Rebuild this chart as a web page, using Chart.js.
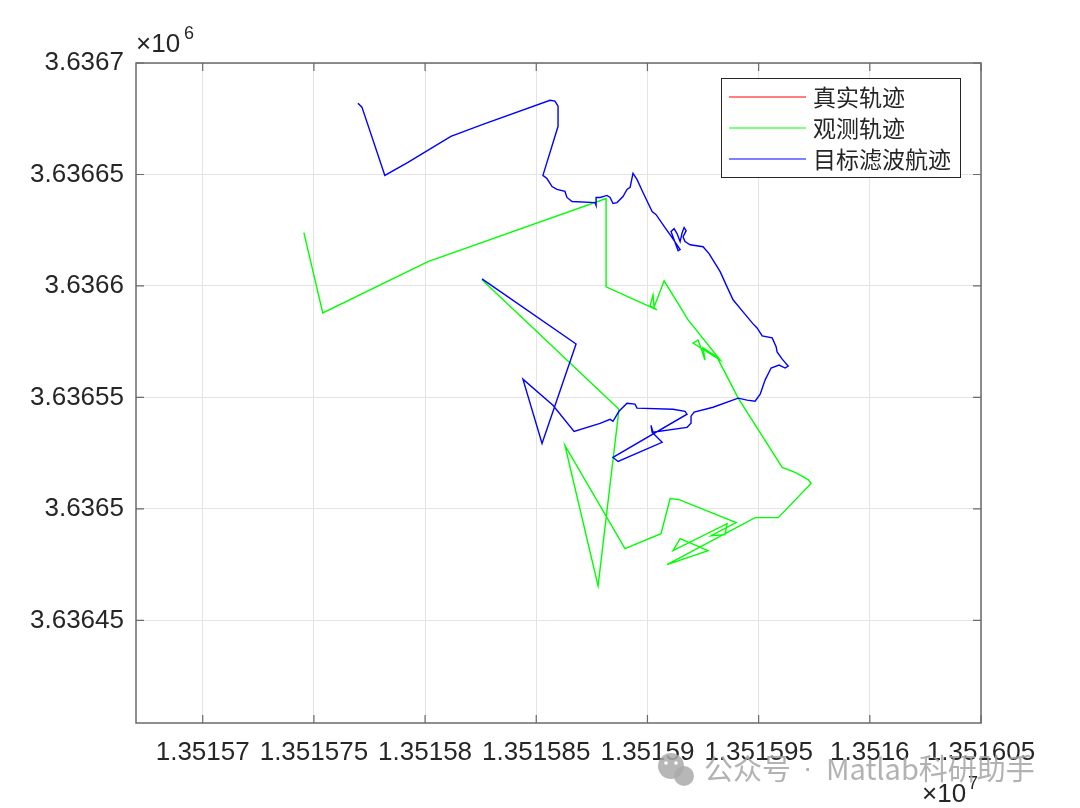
<!DOCTYPE html>
<html>
<head>
<meta charset="utf-8">
<script src="https://cdn.jsdelivr.net/npm/chart.js@4.4.0/dist/chart.umd.min.js"></script>
<style>
html, body { margin: 0; padding: 0; background: #fff; }
</style>
</head>
<body>
<canvas id="myChart" width="1080" height="808"></canvas>
<script>
// legend names
var seriesLabels = ['真实轨迹', '观测轨迹', '目标滤波航迹'];

// true track is not visible in the picture (hidden), kept empty
var trueX = [];
var trueY = [];

// observed track
var obsX = [13515825.6, 13515887.2, 13515877.8, 13515862.9, 13515889.9, 13515906.1, 13515910.2, 13515914.2,
  13515939.9, 13515928.6, 13515934.9, 13515935.8, 13515911.5, 13515914.7, 13515927.3, 13515908.8,
  13515948.4, 13515958.8, 13515973.6, 13515972.3, 13515966.4, 13515960.6, 13515940.8, 13515931.3,
  13515925.0, 13515925.9, 13515922.8, 13515920.5, 13515932.7, 13515918.3, 13515907.5, 13515903.0,
  13515902.5, 13515901.2, 13515904.3, 13515881.4, 13515881.4, 13515801.3, 13515754.0, 13515745.5];
var obsY = [3636602.8, 3636544.7, 3636465.5, 3636528.5, 3636482.2, 3636488.9, 3636504.7, 3636504.2,
  3636493.9, 3636488.0, 3636488.5, 3636493.4, 3636481.3, 3636486.7, 3636481.3, 3636475.0,
  3636496.1, 3636496.1, 3636511.4, 3636513.2, 3636516.4, 3636518.6, 3636549.7, 3636568.1,
  3636572.2, 3636566.8, 3636575.8, 3636574.4, 3636566.8, 3636584.8, 3636602.3, 3636590.6,
  3636596.0, 3636591.1, 3636589.3, 3636599.6, 3636639.2, 3636610.9, 3636587.9, 3636623.9];

// filtered track
var filtX = [13515825.6, 13515867.9, 13515852.6, 13515844.0, 13515857.5, 13515867.0, 13515878.7, 13515883.2,
  13515884.5, 13515887.2, 13515890.8, 13515894.4, 13515895.3, 13515911.5, 13515916.9, 13515917.8,
  13515884.5, 13515886.8, 13515906.6, 13515902.1, 13515901.6, 13515902.5, 13515917.8, 13515919.6,
  13515919.6, 13515921.0, 13515929.5, 13515940.8, 13515944.8, 13515948.4, 13515950.7, 13515952.9,
  13515955.6, 13515959.2, 13515961.9, 13515963.3, 13515960.6, 13515958.3, 13515957.9, 13515956.1,
  13515951.6, 13515949.3, 13515947.5, 13515943.0, 13515938.5, 13515935.8, 13515932.7, 13515927.7,
  13515925.0, 13515919.2, 13515916.9, 13515916.0, 13515917.4, 13515916.5, 13515915.6, 13515914.7,
  13515913.3, 13515912.0, 13515910.6, 13515913.8, 13515914.7, 13515911.1, 13515907.9, 13515903.9,
  13515902.1, 13515898.0, 13515895.3, 13515893.5, 13515892.2, 13515890.8, 13515889.0, 13515886.3,
  13515884.5, 13515883.2, 13515881.8, 13515878.7, 13515876.9, 13515876.9, 13515876.4, 13515866.1,
  13515863.8, 13515862.9, 13515859.3, 13515857.1, 13515854.8, 13515853.0, 13515859.8, 13515859.8,
  13515858.4, 13515856.2, 13515826.0, 13515811.6, 13515792.3, 13515781.9, 13515771.6, 13515769.8];
var filtY = [3636603.2, 3636574.0, 3636529.4, 3636558.2, 3636546.5, 3636534.8, 3636538.4, 3636540.2,
  3636539.3, 3636543.8, 3636547.4, 3636547.0, 3636545.2, 3636544.7, 3636543.8, 3636542.5,
  3636523.1, 3636521.3, 3636529.9, 3636534.4, 3636537.5, 3636534.4, 3636536.6, 3636538.4,
  3636541.6, 3636543.4, 3636545.6, 3636549.7, 3636548.8, 3636548.3, 3636551.5, 3636557.8,
  3636563.2, 3636564.5, 3636563.2, 3636564.1, 3636567.2, 3636570.4, 3636572.6, 3636576.7,
  3636577.6, 3636581.2, 3636583.0, 3636588.4, 3636593.8, 3636599.6, 3636606.4, 3636614.5,
  3636617.6, 3636618.5, 3636619.9, 3636622.1, 3636624.8, 3636626.2, 3636623.9, 3636619.9,
  3636623.5, 3636625.7, 3636624.4, 3636615.8, 3636616.3, 3636621.7, 3636626.2, 3636632.0,
  3636633.4, 3636641.9, 3636647.8, 3636650.5, 3636644.2, 3636643.3, 3636640.1, 3636637.4,
  3636637.0, 3636639.7, 3636640.6, 3636639.7, 3636639.7, 3636636.1, 3636637.4, 3636637.9,
  3636639.7, 3636642.4, 3636643.3, 3636644.6, 3636648.2, 3636649.6, 3636671.6, 3636680.6,
  3636682.9, 3636683.3, 3636672.5, 3636667.1, 3636655.4, 3636649.6, 3636680.2, 3636682.0];

// axes
var xRange = [13515670, 13516050];
var yRange = [3636404, 3636700];
var xTickVals = [13515700, 13515750, 13515800, 13515850, 13515900, 13515950, 13516000, 13516050];
var xTickLabels = ['1.35157', '1.351575', '1.35158', '1.351585', '1.35159', '1.351595', '1.3516', '1.351605'];
var yTickVals = [3636450, 3636500, 3636550, 3636600, 3636650, 3636700];
var yTickLabels = ['3.63645', '3.6365', '3.63655', '3.6366', '3.63665', '3.6367'];

var toPoints = function(xs, ys) {
  return xs.map(function(x, i) { return {x: x, y: ys[i]}; });
};

var tickFont = {family: 'Liberation Sans, Arial, sans-serif', size: 26};
var axisColor = '#6a6a6a';

var boxPlugin = {
  id: 'matlabBox',
  afterDraw: function(chart) {
    var c = chart.ctx, a = chart.chartArea;
    var xs = chart.scales.x, ys = chart.scales.y;
    c.save();
    // box and inward ticks
    c.strokeStyle = axisColor;
    c.lineWidth = 1.5;
    c.strokeRect(a.left, a.top, a.right - a.left, a.bottom - a.top);
    c.lineWidth = 1.2;
    c.beginPath();
    xTickVals.forEach(function(v) {
      var px = xs.getPixelForValue(v);
      c.moveTo(px, a.bottom); c.lineTo(px, a.bottom - 8);
      c.moveTo(px, a.top); c.lineTo(px, a.top + 8);
    });
    yTickVals.forEach(function(v) {
      var py = ys.getPixelForValue(v);
      c.moveTo(a.left, py); c.lineTo(a.left + 8, py);
      c.moveTo(a.right, py); c.lineTo(a.right - 8, py);
    });
    c.stroke();

    // exponent labels
    c.fillStyle = '#262626';
    c.textBaseline = 'alphabetic';
    c.textAlign = 'left';
    c.font = '26px Liberation Sans, Arial, sans-serif';
    c.fillText('\u00d710', 136, 52);
    c.font = '18px Liberation Sans, Arial, sans-serif';
    c.fillText('6', 184, 39);
    c.font = '26px Liberation Sans, Arial, sans-serif';
    c.fillText('\u00d710', 922, 802);
    c.font = '18px Liberation Sans, Arial, sans-serif';
    c.fillText('7', 968, 789);

    // legend
    var lx = 721, ly = 78, lw = 239, lh = 99;
    c.fillStyle = '#fff';
    c.fillRect(lx, ly, lw, lh);
    c.strokeStyle = '#262626';
    c.lineWidth = 1;
    c.strokeRect(lx + 0.5, ly + 0.5, lw, lh);
    c.font = '23px "Noto Sans CJK SC", sans-serif';
    c.textBaseline = 'middle';
    chart.data.datasets.forEach(function(ds, i) {
      var yy = 97 + i * 31;
      c.strokeStyle = ds.borderColor;
      c.lineWidth = 1.2;
      c.beginPath();
      c.moveTo(729, yy); c.lineTo(806, yy);
      c.stroke();
      c.fillStyle = '#262626';
      c.fillText(ds.label, 813, yy);
    });

    // watermark
    c.fillStyle = 'rgba(170,170,170,0.85)';
    c.beginPath();
    c.arc(671, 766, 13, 0, Math.PI * 2);
    c.fill();
    c.beginPath();
    c.arc(684, 776, 10, 0, Math.PI * 2);
    c.fill();
    c.fillStyle = '#fff';
    c.beginPath();
    c.arc(666, 763, 1.8, 0, Math.PI * 2);
    c.arc(676, 763, 1.8, 0, Math.PI * 2);
    c.fill();
    c.fillStyle = 'rgba(165,165,165,0.85)';
    c.font = '29px "Noto Sans CJK SC", sans-serif';
    c.textBaseline = 'middle';
    c.fillText('公众号', 704, 769);
    c.font = '28px Liberation Sans, Arial, sans-serif';
    c.fillText('\u00b7', 803, 769);
    c.font = '29px "Noto Sans CJK SC", sans-serif';
    c.fillText('Matlab科研助手', 826, 769);
    c.restore();
  }
};

var ctx = document.getElementById('myChart');
var trackChart = new Chart(ctx, {
  type: 'scatter',
  data: {
    datasets: [{
      label: seriesLabels[0],
      data: toPoints(trueX, trueY),
      borderColor: '#ff0000',
      order: 2
    }, {
      label: seriesLabels[1],
      data: toPoints(obsX, obsY),
      borderColor: '#00ff00',
      order: 1
    }, {
      label: seriesLabels[2],
      data: toPoints(filtX, filtY),
      borderColor: '#0000ff',
      order: 0
    }]
  },
  options: {
    responsive: false,
    animation: false,
    devicePixelRatio: 1,
    layout: {padding: {left: 0, top: 63, right: 99, bottom: 0}},
    datasets: {
      scatter: {showLine: true, pointRadius: 0, borderWidth: 1.4, fill: false, tension: 0}
    },
    plugins: {legend: {display: false}, tooltip: {enabled: false}},
    scales: {
      x: {
        type: 'linear',
        min: xRange[0], max: xRange[1],
        afterBuildTicks: function(s) { s.ticks = xTickVals.map(function(v) { return {value: v}; }); },
        afterFit: function(s) { s.height = 85; },
        grid: {color: '#e4e4e4', lineWidth: 1, drawTicks: false},
        border: {display: false},
        ticks: {
          autoSkip: false, maxRotation: 0, padding: 14, color: '#262626', font: tickFont,
          callback: function(v) { var i = xTickVals.indexOf(v); return i >= 0 ? xTickLabels[i] : ''; }
        }
      },
      y: {
        type: 'linear',
        min: yRange[0], max: yRange[1],
        afterBuildTicks: function(s) { s.ticks = yTickVals.map(function(v) { return {value: v}; }); },
        afterFit: function(s) { s.width = 136; },
        grid: {color: '#e4e4e4', lineWidth: 1, drawTicks: false},
        border: {display: false},
        ticks: {
          autoSkip: false, padding: 12, color: '#262626', font: tickFont,
          callback: function(v) { var i = yTickVals.indexOf(v); return i >= 0 ? yTickLabels[i] : ''; }
        }
      }
    }
  },
  plugins: [boxPlugin]
});
</script>
</body>
</html>
